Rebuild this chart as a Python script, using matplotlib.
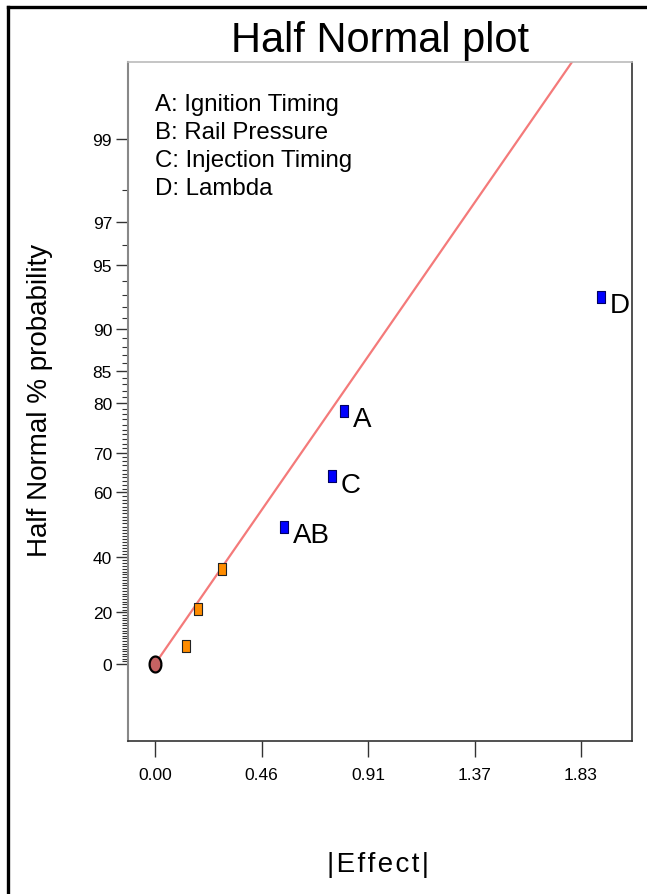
import matplotlib
matplotlib.use("Agg")
import matplotlib.pyplot as plt
from matplotlib.lines import Line2D
from statistics import NormalDist
import numpy as np

plt.rcParams['font.family'] = ['Liberation Sans', 'DejaVu Sans']

# data
origin_effect = [0.0]
origin_prob = [0.0]
error_effects = [0.133, 0.185, 0.288]
error_probs = [7.14, 21.43, 35.71]
term_names = ['AB', 'C', 'A', 'D']
term_effects = [0.554, 0.760, 0.812, 1.916]
term_probs = [50.0, 64.29, 78.57, 92.86]
fit_slope = 1.649   # z per unit effect
line_effects = [0.0, 2.1]

factor_legend = ['A: Ignition Timing', 'B: Rail Pressure',
                 'C: Injection Timing', 'D: Lambda']

ytick_probs = [0, 20, 40, 60, 70, 80, 85, 90, 95, 97, 99]
xtick_vals = [0.0, 0.4575, 0.915, 1.3725, 1.83]
xtick_labels = ['0.00', '0.46', '0.91', '1.37', '1.83']


def hn(p):
    # half normal probability -> z
    p = np.atleast_1d(p)
    return np.array([NormalDist().inv_cdf(0.5 + v / 200.0) for v in p])


fig = plt.figure(figsize=(6.47, 8.95), dpi=100)
ax = fig.add_axes([128 / 647, 1 - 742 / 895, 504 / 647, 679 / 895])

# fitted line
lx = np.array(line_effects)
ax.plot(lx, fit_slope * lx, color='#f47a7a', lw=1.6, zorder=2, clip_on=True)

rect = [(-0.36, -0.5), (0.36, -0.5), (0.36, 0.5), (-0.36, 0.5), (-0.36, -0.5)]
t = np.linspace(0, 2 * np.pi, 40)
ellipse = list(zip(0.37 * np.cos(t), 0.5 * np.sin(t)))

ax.plot(origin_effect, hn(origin_prob), ls='none', marker=ellipse, ms=11.5,
        mfc='#c46262', mec='black', mew=1.6, zorder=4, clip_on=False)
ax.plot(error_effects, hn(error_probs), ls='none', marker=rect, ms=8.5,
        mfc='#ff8c00', mec='#222222', mew=0.8, zorder=4)
ax.plot(term_effects, hn(term_probs), ls='none', marker=rect, ms=8.5,
        mfc='#0000ff', mec='#000060', mew=0.8, zorder=4)

for name, ex, zy in zip(term_names, term_effects, hn(term_probs)):
    ax.annotate(name, (ex, zy), xytext=(6.5, -6), textcoords='offset points',
                ha='left', va='center', fontsize=20)

for i, s in enumerate(factor_legend):
    ax.text(0.054, 0.938 - i * 28 / 679, s, transform=ax.transAxes,
            fontsize=17.3, ha='left', va='center')

ax.set_xlim(-0.116, 2.049)
ax.set_ylim(-0.378, 2.954)

ax.set_yticks(hn(ytick_probs))
ax.set_yticklabels([str(p) for p in ytick_probs])
minor = [p for p in range(1, 99) if p not in ytick_probs]
ax.set_yticks(hn(minor), minor=True)
ax.set_xticks(xtick_vals)
ax.set_xticklabels(xtick_labels)

ax.tick_params(axis='y', which='major', direction='out', length=8.5,
               width=1, color='#333333', labelsize=12.5, pad=3)
ax.tick_params(axis='y', which='minor', direction='out', length=4.3,
               width=0.8, color='#333333')
ax.tick_params(axis='x', which='major', direction='out', length=11.5,
               width=1, color='#333333', labelsize=12.5, pad=7)

for side in ['bottom', 'right']:
    ax.spines[side].set_color('#333333')
    ax.spines[side].set_linewidth(1.2)
ax.spines['left'].set_color('#888888')
ax.spines['left'].set_linewidth(1.5)
ax.spines['top'].set_color('#bbbbbb')
ax.spines['top'].set_linewidth(1.2)

fig.text(380 / 647, 1 - 41 / 895, 'Half Normal plot', ha='center',
         va='center', fontsize=30)
fig.text(40 / 647, 1 - 400 / 895, 'Half Normal % probability', rotation=90,
         ha='center', va='center', fontsize=20)
hs = '\u200a'
fig.text(378 / 647, 1 - 865 / 895, hs.join('|Effect|'), ha='center',
         va='center', fontsize=20)

# outer frame (left and top)
fig.add_artist(Line2D([8 / 647, 8 / 647], [0, 1 - 8 / 895],
                      color='black', lw=2.4, transform=fig.transFigure))
fig.add_artist(Line2D([8 / 647, 1], [1 - 8 / 895, 1 - 8 / 895],
                      color='black', lw=2.4, transform=fig.transFigure))

fig.savefig('out.png', dpi=100)
